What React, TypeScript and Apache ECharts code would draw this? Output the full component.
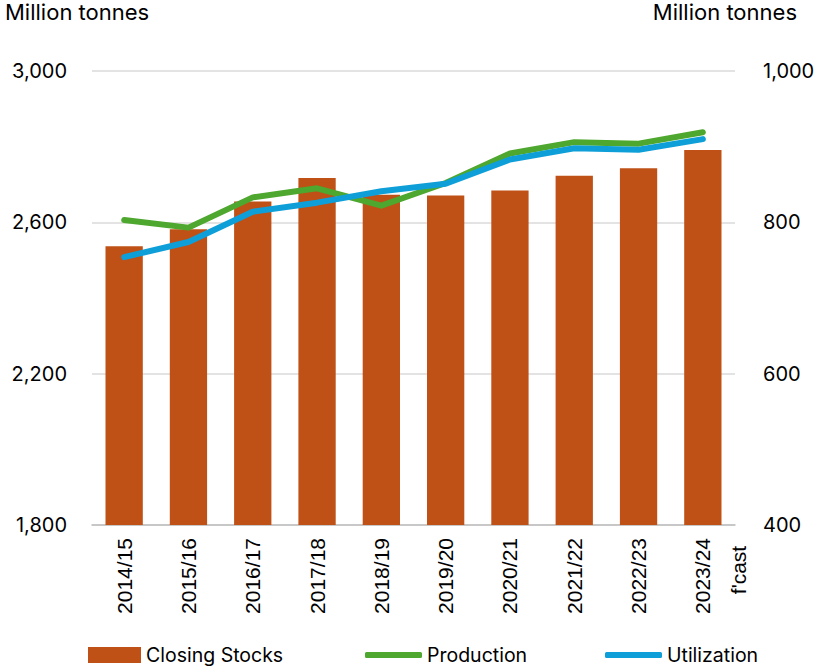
import React, { useEffect, useRef } from "react";
import * as echarts from "echarts";

// Marketing years on the category axis
const years = [
  "2014/15", "2015/16", "2016/17", "2017/18", "2018/19",
  "2019/20", "2020/21", "2021/22", "2022/23", "2023/24",
];

// Closing stocks, million tonnes (left axis)
const closingStocks = [2537, 2582, 2655, 2717, 2673, 2671, 2684, 2723, 2743, 2791];

// Production and utilization, million tonnes (right axis)
const production = [803, 793, 833, 845, 822, 852, 891, 906, 904, 919];
const utilization = [754, 774, 814, 826, 841, 851, 883, 898, 896, 910];

const leftTicks = { min: 1800, max: 3000, interval: 400 };
const rightTicks = { min: 400, max: 1000, interval: 200 };

const UI_FONT = "Inter, 'Open Sans', sans-serif";
const CAT_FONT = "'Liberation Sans', Arial, sans-serif";

export default function App() {
  const ref = useRef<HTMLDivElement>(null);

  useEffect(() => {
    document.body.style.margin = "0";
    const chart = echarts.init(ref.current!, null, { renderer: "svg" });

    const legendText = { fontFamily: UI_FONT, fontSize: 19.5, color: "#000" };

    chart.setOption({
      animation: false,
      backgroundColor: "#fff",
      grid: { left: 92, right: 88, top: 71, bottom: 144, containLabel: false },
      legend: [
        {
          data: ["Closing Stocks"],
          left: 88, top: 645,
          icon: "rect", itemWidth: 53, itemHeight: 16,
          textStyle: legendText, padding: 0, itemGap: 0,
        },
        {
          data: [{ name: "Production", icon: "roundRect" }],
          left: 365, top: 645,
          itemWidth: 57, itemHeight: 6,
          textStyle: legendText, padding: 0,
        },
        {
          data: [{ name: "Utilization", icon: "roundRect" }],
          left: 605, top: 645,
          itemWidth: 57, itemHeight: 6,
          textStyle: legendText, padding: 0,
        },
      ],
      xAxis: {
        type: "category",
        data: years,
        axisTick: { show: false },
        axisLine: { lineStyle: { color: "#bfbfbf", width: 1.5 } },
        axisLabel: {
          rotate: 90,
          interval: 0,
          margin: 13,
          fontFamily: CAT_FONT,
          fontSize: 21,
          color: "#000",
        },
      },
      yAxis: [
        {
          type: "value",
          ...leftTicks,
          axisLine: { show: false },
          axisTick: { show: false },
          splitLine: { lineStyle: { color: "#e3e3e3", width: 2 } },
          axisLabel: {
            margin: 25,
            fontFamily: UI_FONT,
            fontSize: 20,
            color: "#000",
            formatter: (v: number) => v.toLocaleString("en-US"),
          },
        },
        {
          type: "value",
          ...rightTicks,
          axisLine: { show: false },
          axisTick: { show: false },
          splitLine: { show: false },
          axisLabel: {
            margin: 28,
            fontFamily: UI_FONT,
            fontSize: 20,
            color: "#000",
            formatter: (v: number) => v.toLocaleString("en-US"),
          },
        },
      ],
      series: [
        {
          name: "Closing Stocks",
          type: "bar",
          data: closingStocks,
          yAxisIndex: 0,
          barWidth: "58%",
          itemStyle: { color: "#BF5016" },
          z: 1,
        },
        {
          name: "Production",
          type: "line",
          data: production,
          yAxisIndex: 1,
          symbol: "none",
          lineStyle: { color: "#4EA72E", width: 6, cap: "round", join: "round" },
          itemStyle: { color: "#4EA72E" },
          z: 3,
        },
        {
          name: "Utilization",
          type: "line",
          data: utilization,
          yAxisIndex: 1,
          symbol: "none",
          lineStyle: { color: "#0E9FD8", width: 6, cap: "round", join: "round" },
          itemStyle: { color: "#0E9FD8" },
          z: 4,
        },
      ],
      graphic: [
        {
          type: "text",
          left: 5, top: 1,
          style: { text: "Million tonnes", fontFamily: UI_FONT, fontSize: 22, fill: "#000" },
        },
        {
          type: "text",
          right: 26, top: 1,
          style: { text: "Million tonnes", fontFamily: UI_FONT, fontSize: 22, fill: "#000" },
        },
        {
          type: "text",
          x: 738, y: 570,
          rotation: Math.PI / 2,
          style: {
            text: "f'cast", fontFamily: CAT_FONT, fontSize: 21, fill: "#000",
            align: "center", verticalAlign: "middle",
          },
        },
      ],
    });

    return () => chart.dispose();
  }, []);

  return <div ref={ref} style={{ width: 823, height: 669 }} />;
}
